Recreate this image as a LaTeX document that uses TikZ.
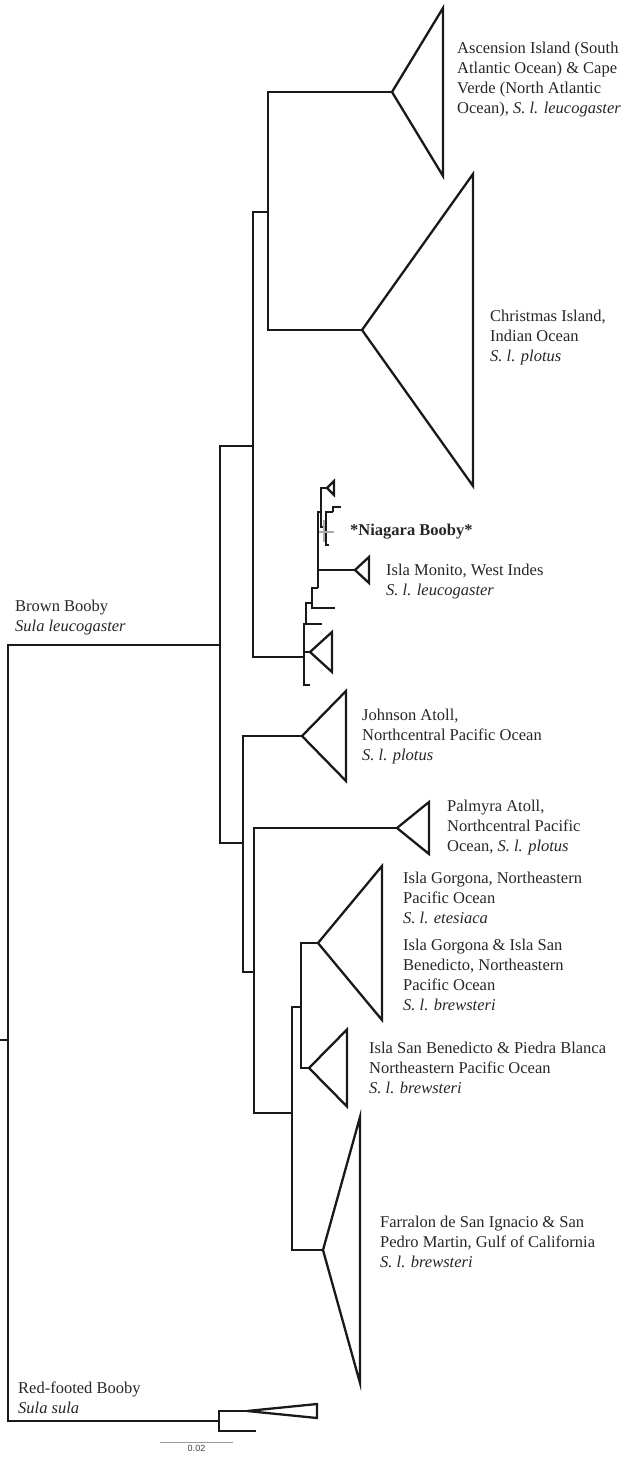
\documentclass[tikz,border=0pt]{standalone}
\usepackage{fontspec}
\setmainfont{Liberation Serif}
\newfontfamily\barfont{Liberation Sans}

% collapsed clade drawn as a triangle from its apex
\newcommand{\clade}[3]{\draw[branch] (#1) -- ++(#2,-#3) -- ++(0,{2*#3}) -- cycle;}

\begin{document}
\begin{tikzpicture}[
    x=1pt, y=-1pt,
    branch/.style={line width=2.3pt, black!90},
    niagara/.style={line width=2.3pt, gray!65},
    taxon/.style={anchor=west, align=left, inner sep=0pt, text=black!85, font=\fontsize{16.5}{20}\selectfont},
    scalebar/.style={line width=1pt, gray!80}
]
\useasboundingbox (0,0) rectangle (622,1458);

% internal nodes
\coordinate (rootstub) at (0,1040);
\coordinate (root) at (8,1040);
\coordinate (brown) at (220,645);
\coordinate (redft) at (219,1421);
\coordinate (upper) at (253,446);
\coordinate (lower) at (243,843);
\coordinate (atl) at (268,212);
\coordinate (nia0) at (304,657);
\coordinate (nia1) at (306,624);
\coordinate (nia2) at (312,603);
\coordinate (nia3) at (318,588);
\coordinate (nia4) at (321,512);
\coordinate (nia5) at (326,527);
\coordinate (nia6) at (333,512);
\coordinate (pac1) at (254,972);
\coordinate (pac2) at (292,1113);
\coordinate (pac3) at (301,1007);

% tips
\coordinate (asc) at (392,92);
\coordinate (chr) at (362,330);
\coordinate (niatri) at (310,652);
\coordinate (niastub) at (310,685);
\coordinate (stub1) at (322,624);
\coordinate (stub2) at (335,608);
\coordinate (monito) at (355,570);
\coordinate (tiny) at (327,488);
\coordinate (stub3) at (329,545);
\coordinate (stub4) at (341,507);
\coordinate (niagtop) at (324,520);
\coordinate (niagbot) at (324,542);
\coordinate (niagleft) at (319,532);
\coordinate (niag) at (334,532);
\coordinate (john) at (302,736);
\coordinate (palm) at (397,828);
\coordinate (gorg) at (318,943);
\coordinate (sanb) at (309,1068);
\coordinate (farr) at (323,1250);
\coordinate (redtri) at (247,1411);
\coordinate (redstub) at (256,1431);

% branches
\draw[branch] (rootstub) -- (root);
\draw[branch] (root) |- (brown);
\draw[branch] (root) |- (redft);
\draw[branch] (redft) |- (redtri);
\draw[branch] (redft) |- (redstub);
\draw[branch] (brown) |- (upper);
\draw[branch] (brown) |- (lower);
\draw[branch] (upper) |- (atl);
\draw[branch] (upper) |- (nia0);
\draw[branch] (atl) |- (asc);
\draw[branch] (atl) |- (chr);
\draw[branch] (nia0) |- (nia1);
\draw[branch] (nia0) |- (niatri);
\draw[branch] (nia0) |- (niastub);
\draw[branch] (nia1) |- (nia2);
\draw[branch] (nia1) |- (stub1);
\draw[branch] (nia2) |- (nia3);
\draw[branch] (nia2) |- (stub2);
\draw[branch] (nia3) |- (nia4);
\draw[branch] (nia3) |- (monito);
\draw[branch] (nia4) |- (tiny);
\draw[branch] (nia4) |- (nia5);
\draw[branch] (nia5) |- (nia6);
\draw[branch] (nia5) |- (stub3);
\draw[branch] (nia6) |- (stub4);
\draw[niagara] (niagtop) -- (niagbot);
\draw[niagara] (niagleft) -- (niag);
\draw[branch] (lower) |- (john);
\draw[branch] (lower) |- (pac1);
\draw[branch] (pac1) |- (palm);
\draw[branch] (pac1) |- (pac2);
\draw[branch] (pac2) |- (pac3);
\draw[branch] (pac2) |- (farr);
\draw[branch] (pac3) |- (gorg);
\draw[branch] (pac3) |- (sanb);

% collapsed clades
\clade{asc}{51}{84}
\clade{chr}{111}{156}
\clade{niatri}{22}{20}
\clade{monito}{14}{13}
\clade{tiny}{7}{7}
\clade{john}{44}{45}
\clade{palm}{32}{26}
\clade{gorg}{64}{77}
\clade{sanb}{38}{38.5}
\clade{farr}{37}{133}
\clade{redtri}{70}{7}

% labels
\node[taxon] (ascLabel) at (457,80) {Ascension Island (South\\Atlantic Ocean) \& Cape\\Verde (North Atlantic\\Ocean), \textit{S. l. leucogaster}};
\node[taxon] (chrLabel) at (490,338) {Christmas Island,\\Indian Ocean\\\textit{S. l. plotus}};
\node[taxon] (niagLabel) at (350,532) {\textbf{*Niagara Booby*}};
\node[taxon] (monitoLabel) at (386,582) {Isla Monito, West Indes\\\textit{S. l. leucogaster}};
\node[taxon] (johnLabel) at (362,737) {Johnson Atoll,\\Northcentral Pacific Ocean\\\textit{S. l. plotus}};
\node[taxon] (palmLabel) at (447,828) {Palmyra Atoll,\\Northcentral Pacific\\Ocean, \textit{S. l. plotus}};
\node[taxon] (gorgLabel) at (403,898) {Isla Gorgona, Northeastern\\Pacific Ocean\\\textit{S. l. etesiaca}};
\node[taxon] (gorgsanLabel) at (403,975) {Isla Gorgona \& Isla San\\Benedicto, Northeastern\\Pacific Ocean\\\textit{S. l. brewsteri}};
\node[taxon] (sanbLabel) at (369,1068) {Isla San Benedicto \& Piedra Blanca\\Northeastern Pacific Ocean\\\textit{S. l. brewsteri}};
\node[taxon] (farrLabel) at (380,1242) {Farralon de San Ignacio \& San\\Pedro Martin, Gulf of California\\\textit{S. l. brewsteri}};
\node[taxon] (brownLabel) at (15,618) {Brown Booby\\\textit{Sula leucogaster}};
\node[taxon] (redLabel) at (18,1398) {Red-footed Booby\\\textit{Sula sula}};

% scale bar
\coordinate (sbl) at (160,1442);
\coordinate (sbr) at (233,1442);
\draw[scalebar] (sbl) -- (sbr) node[midway, below=3pt, inner sep=0pt, text=black!75, font=\barfont\fontsize{9}{10}\selectfont] (sbLabel) {0.02};

\end{tikzpicture}
\end{document}
